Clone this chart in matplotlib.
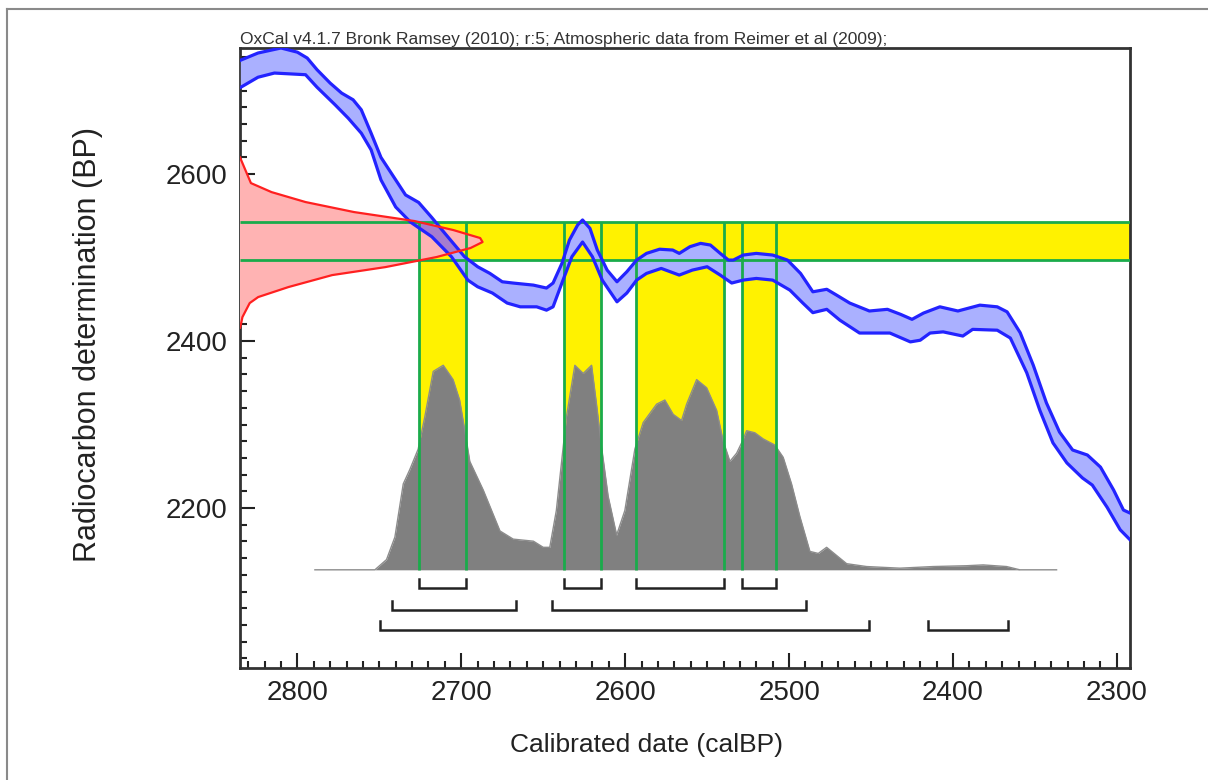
import numpy as np
import matplotlib.pyplot as plt
from matplotlib.lines import Line2D
from matplotlib.ticker import MultipleLocator, FixedLocator

plt.rcParams['font.family'] = ['Liberation Sans', 'DejaVu Sans']

# calibration curve (IntCal09), upper and lower 1-sigma edges
cal_upper_yr = [2834.5, 2824, 2810, 2800, 2794, 2788, 2780, 2773, 2766, 2761, 2755, 2749, 2740, 2734,
                2726, 2718, 2710, 2698, 2690, 2682.5, 2675, 2668.5, 2656, 2648, 2644, 2638.6, 2634, 2629,
                2626, 2621.5, 2617, 2611, 2605, 2599, 2593, 2587, 2579, 2571, 2567, 2560.5, 2554, 2548,
                2542, 2537, 2534, 2528, 2520, 2510, 2501, 2493, 2485.5, 2477, 2471, 2463, 2451, 2440,
                2432, 2425, 2418, 2408, 2397, 2383.6, 2373, 2367, 2359, 2351, 2343, 2335, 2327, 2318,
                2310, 2302, 2296, 2292]
cal_upper_bp = [2736.5, 2745, 2751, 2746, 2739, 2725, 2709, 2697, 2689, 2677, 2649, 2620, 2593, 2575,
                2566, 2548, 2529, 2501, 2489, 2481, 2471, 2469.5, 2467, 2463.5, 2469.5, 2493, 2521, 2539,
                2545, 2535, 2509, 2485, 2471, 2483, 2497, 2505, 2510, 2509, 2505, 2513, 2517, 2515,
                2505, 2497, 2497, 2503, 2505, 2503, 2497, 2481, 2459, 2462, 2455, 2445.5, 2436, 2438,
                2432, 2426, 2433.5, 2441, 2436, 2443, 2441, 2435, 2410, 2371, 2326, 2291, 2269.5, 2263.5,
                2249, 2221.6, 2197.6, 2194]
cal_lower_yr = [2834.5, 2824, 2814, 2795, 2788, 2777, 2769, 2761, 2755, 2749, 2740, 2731, 2718, 2706,
                2696, 2690, 2681, 2672, 2664, 2654, 2648, 2644, 2638.6, 2632.5, 2626, 2620, 2614, 2605,
                2599, 2593, 2587, 2578, 2567, 2559, 2550, 2542, 2535, 2528, 2520, 2510, 2499.5, 2491.6,
                2485.5, 2477, 2469, 2457, 2438.5, 2426, 2420, 2414, 2406, 2394, 2388, 2373, 2365, 2355,
                2347, 2339, 2330.5, 2321, 2315, 2306, 2298, 2292]
cal_lower_bp = [2704, 2716, 2721, 2719, 2704, 2683, 2667, 2649, 2629, 2593, 2560.5, 2542.5, 2525, 2501,
                2473, 2465, 2457.5, 2445.5, 2441, 2441, 2437, 2441, 2469.5, 2501, 2518.6, 2501, 2473, 2447,
                2457.5, 2473, 2481, 2487, 2479, 2485, 2489, 2479, 2469.5, 2473, 2475, 2473, 2461, 2445.5,
                2434, 2438, 2425, 2409.6, 2409.6, 2399, 2401, 2409.6, 2411, 2406, 2414, 2413, 2403.6, 2362,
                2317, 2278, 2254, 2236, 2227.5, 2201, 2174, 2162]

# radiocarbon measurement (relative probability)
meas_bp = [2620, 2613.2, 2589.2, 2578.4, 2566.5, 2554.5, 2543.7, 2532.9, 2523.4, 2518.6, 2511.4,
           2500.6, 2488.6, 2479, 2464.7, 2452.7, 2445.5, 2428.7, 2421.6, 2416]
meas_p = [0, 0.01, 0.045, 0.13, 0.27, 0.47, 0.72, 0.88, 0.99, 1.0, 0.95, 0.81, 0.60, 0.38, 0.20,
          0.075, 0.04, 0.01, 0.005, 0]

# calibrated date (relative probability)
post_yr = [2789.3, 2752.7, 2745.6, 2740.5, 2735.4, 2731.4, 2726.3, 2722.2, 2717.1, 2711, 2705, 2701,
           2697.8, 2694.8, 2686.6, 2681.5, 2676.4, 2668.3, 2656, 2650, 2646, 2642, 2635.8, 2630.7,
           2625.6, 2620.5, 2617.5, 2614.4, 2610.4, 2605.2, 2600.2, 2594.1, 2589, 2580.8, 2575.8,
           2570.7, 2565.6, 2562.5, 2556.4, 2550.3, 2544.2, 2540.2, 2536.1, 2532, 2529, 2525.9, 2520.9,
           2515.8, 2508.7, 2503.6, 2498.5, 2493.4, 2487.3, 2482.2, 2477.1, 2471, 2464.9, 2452.7,
           2432.4, 2412.1, 2391.7, 2381.6, 2367.3, 2359.2, 2336.8]
post_p = [0, 0, 0.05, 0.16, 0.42, 0.49, 0.59, 0.75, 0.97, 1.0, 0.93, 0.83, 0.68, 0.53, 0.39, 0.29,
          0.19, 0.15, 0.14, 0.11, 0.11, 0.29, 0.75, 1.0, 0.96, 1.0, 0.81, 0.60, 0.36, 0.17, 0.29, 0.59,
          0.72, 0.81, 0.83, 0.76, 0.73, 0.81, 0.93, 0.89, 0.78, 0.63, 0.53, 0.57, 0.62, 0.68, 0.67,
          0.64, 0.61, 0.55, 0.42, 0.26, 0.09, 0.08, 0.11, 0.07, 0.03, 0.016, 0.008, 0.016, 0.02,
          0.024, 0.016, 0, 0]

sig_lo, sig_hi = 2497, 2542.5
ranges_68 = [(2726, 2697), (2637.4, 2615), (2593.5, 2540), (2529, 2508)]
ranges_95 = [(2742.3, 2666.7), (2644.7, 2489.7)]
ranges_997 = [(2749.7, 2451.3), (2415.3, 2366.5)]
range_rows = [2104, 2078, 2054]

xmin, xmax = 2835, 2292
ymin, ymax = 2008.4, 2751
post_base, post_scale = 2126, 245
meas_scale = 148

yellow = '#fff200'
green = '#1aab4b'

fig = plt.figure(figsize=(12.08, 7.8), dpi=100)
ax = fig.add_axes([240/1208, 1-668/780, 890/1208, 620/780])

# yellow 1-sigma regions
ax.fill_between([ranges_68[0][0], xmax], sig_lo, sig_hi, color=yellow, lw=0, zorder=1)
for a, b in ranges_68:
    ax.fill_between([a, b], post_base, sig_lo, color=yellow, lw=0, zorder=1)

# calibrated distribution
post_y = post_base + np.array(post_p)*post_scale
ax.fill_between(post_yr, post_base, post_y, color='#808080', lw=0, zorder=2)
ax.plot(post_yr, post_y, color='#8c8c8c', lw=1, zorder=2)

# calibration band
band_x = np.r_[cal_upper_yr, cal_lower_yr[::-1]]
band_y = np.r_[cal_upper_bp, cal_lower_bp[::-1]]
ax.fill(band_x, band_y, color='#aab0ff', lw=0, zorder=3)

# measurement distribution
meas_x = xmin - np.array(meas_p)*meas_scale
red_patch = ax.fill(np.r_[xmin, meas_x, xmin], np.r_[meas_bp[0], meas_bp, meas_bp[-1]],
                    color='#ffb3b3', lw=0, zorder=4)[0]
overlap = ax.fill(band_x, band_y, color='#a57ccf', lw=0, zorder=4.5)[0]
overlap.set_clip_path(red_patch)

# 1-sigma lines
ax.hlines([sig_lo, sig_hi], xmin, xmax, color=green, lw=2, zorder=5)
bounds = [v for r in ranges_68 for v in r]
ax.vlines(bounds, post_base, sig_hi, color=green, lw=2, zorder=5)

ax.plot(cal_upper_yr, cal_upper_bp, color='#2323ff', lw=2.3, zorder=6)
ax.plot(cal_lower_yr, cal_lower_bp, color='#2323ff', lw=2.3, zorder=6)
ax.plot(meas_x, meas_bp, color='#ff2020', lw=1.6, zorder=6)

# range brackets
for row, ranges in zip(range_rows, [ranges_68, ranges_95, ranges_997]):
    for a, b in ranges:
        ax.plot([a, a, b, b], [row + 11, row, row, row + 11], color='#222222', lw=1.8,
                solid_joinstyle='miter', zorder=6)

ax.set_xlim(xmin, xmax)
ax.set_ylim(ymin, ymax)
ax.xaxis.set_major_locator(MultipleLocator(100))
ax.xaxis.set_minor_locator(MultipleLocator(10))
ax.yaxis.set_major_locator(FixedLocator([2200, 2400, 2600]))
ax.yaxis.set_minor_locator(MultipleLocator(20))
ax.tick_params(which='both', direction='in', color='#222222', width=1.5, top=False, right=False)
ax.tick_params(which='major', length=11, labelsize=20, labelcolor='#222222', pad=9)
ax.tick_params(which='minor', length=5)
for s in ax.spines.values():
    s.set_linewidth(2)
    s.set_color('#333333')

fig.text(240/1208, 1-44/780,
         'OxCal v4.1.7 Bronk Ramsey (2010); r:5; Atmospheric data from Reimer et al (2009);',
         fontsize=12.5, color='#333333', ha='left', va='baseline')
fig.text(647/1208, 1-745/780, 'Calibrated date (calBP)', fontsize=19, color='#222222',
         ha='center', va='center')
fig.text(88/1208, 1-345/780, 'Radiocarbon determination (BP)', fontsize=22, color='#222222',
         rotation=90, ha='center', va='center')

# screenshot frame
fig.add_artist(Line2D([6.5/1208, 6.5/1208], [0, 1-9/780], color='#8a8a8a', lw=1.5))
fig.add_artist(Line2D([6.5/1208, 1], [1-9/780, 1-9/780], color='#8a8a8a', lw=1.5))

fig.savefig('out.png', dpi=100)
